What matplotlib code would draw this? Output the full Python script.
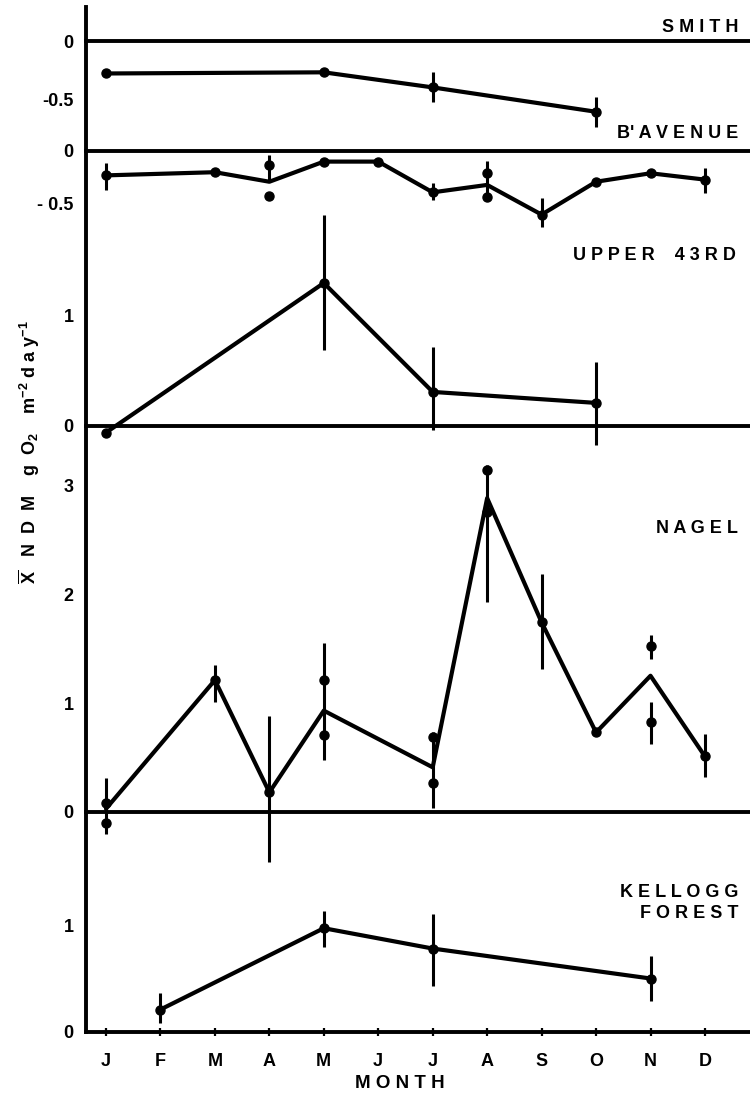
import matplotlib
matplotlib.use('Agg')
import matplotlib.pyplot as plt

plt.rcParams['font.family'] = ['Liberation Sans', 'DejaVu Sans']
plt.rcParams['font.weight'] = 'bold'
plt.rcParams['mathtext.fontset'] = 'custom'
plt.rcParams['mathtext.rm'] = 'Liberation Sans:bold'
plt.rcParams['mathtext.bf'] = 'Liberation Sans:bold'
plt.rcParams['mathtext.it'] = 'Liberation Sans:bold'

# ---------------- data ----------------
month_labels = ['J', 'F', 'M', 'A', 'M', 'J', 'J', 'A', 'S', 'O', 'N', 'D']

# SMITH
smith_line_m = [0, 4, 6, 9]
smith_line_v = [-0.28, -0.27, -0.40, -0.61]
smith_dot_m = [0, 4, 6, 9]
smith_dot_v = [-0.28, -0.27, -0.40, -0.61]
smith_err_m = [6, 9]
smith_err_lo = [-0.53, -0.74]
smith_err_hi = [-0.27, -0.48]

# B' AVENUE
bave_line_m = [0, 2, 3, 4, 5, 6, 7, 8, 9, 10, 11]
bave_line_v = [-0.23, -0.20, -0.29, -0.10, -0.10, -0.39, -0.32, -0.60, -0.29, -0.21, -0.27]
bave_dot_m = [0, 2, 3, 3, 4, 5, 6, 7, 7, 8, 9, 10, 11]
bave_dot_v = [-0.23, -0.20, -0.13, -0.42, -0.10, -0.10, -0.39, -0.21, -0.43, -0.60, -0.29, -0.21, -0.27]
bave_err_m = [0, 3, 6, 7, 8, 11]
bave_err_lo = [-0.37, -0.27, -0.46, -0.46, -0.72, -0.40]
bave_err_hi = [-0.11, -0.04, -0.30, -0.09, -0.44, -0.16]

# UPPER 43RD
upper_line_m = [0, 4, 6, 9]
upper_line_v = [-0.06, 1.30, 0.31, 0.21]
upper_dot_m = [0, 4, 6, 9]
upper_dot_v = [-0.06, 1.30, 0.31, 0.21]
upper_err_m = [4, 6, 9]
upper_err_lo = [0.69, -0.04, -0.17]
upper_err_hi = [1.92, 0.72, 0.58]

# NAGEL
nagel_line_m = [0, 2, 3, 4, 6, 7, 8, 9, 10, 11]
nagel_line_v = [0.03, 1.21, 0.18, 0.93, 0.41, 2.88, 1.74, 0.73, 1.25, 0.51]
nagel_dot_m = [0, 0, 2, 3, 4, 4, 6, 6, 7, 7, 8, 9, 10, 10, 11]
nagel_dot_v = [0.08, -0.10, 1.21, 0.18, 1.21, 0.71, 0.69, 0.27, 3.14, 2.75, 1.74, 0.73, 1.52, 0.83, 0.51]
nagel_err_m = [0, 2, 3, 4, 6, 7, 8, 10, 10, 11]
nagel_err_lo = [-0.20, 1.01, -0.46, 0.48, 0.04, 1.93, 1.31, 1.40, 0.62, 0.32]
nagel_err_hi = [0.31, 1.35, 0.88, 1.55, 0.73, 3.18, 2.18, 1.62, 1.01, 0.72]

# KELLOGG FOREST
kell_line_m = [1, 4, 6, 10]
kell_line_v = [0.21, 0.97, 0.78, 0.50]
kell_dot_m = [1, 4, 6, 10]
kell_dot_v = [0.21, 0.97, 0.78, 0.50]
kell_err_m = [1, 4, 6, 10]
kell_err_lo = [0.08, 0.79, 0.43, 0.29]
kell_err_hi = [0.36, 1.13, 1.10, 0.71]

# ---------------- layout ----------------
W, H = 750, 1096
fig = plt.figure(figsize=(W / 100, H / 100), dpi=100)

ax_left_px, ax_right_px = 86, 750
m0_px, m_step_px = 106, 54.45
xlim = ((ax_left_px - m0_px) / m_step_px, (ax_right_px - m0_px) / m_step_px)

panels = [
    dict(name='S M I T H', lm=smith_line_m, lv=smith_line_v, dm=smith_dot_m, dv=smith_dot_v,
         em=smith_err_m, elo=smith_err_lo, ehi=smith_err_hi,
         top=7, bot=146, zero=41, scale=116, ticks=[0, -0.5], tlabels=['0', '-0.5'],
         title_xy=(738, 27)),
    dict(name="B' A V E N U E", lm=bave_line_m, lv=bave_line_v, dm=bave_dot_m, dv=bave_dot_v,
         em=bave_err_m, elo=bave_err_lo, ehi=bave_err_hi,
         top=146, bot=232, zero=151, scale=106, ticks=[0, -0.5], tlabels=['0', '- 0.5'],
         title_xy=(738, 133)),
    dict(name='U P P E R    4 3 R D', lm=upper_line_m, lv=upper_line_v, dm=upper_dot_m, dv=upper_dot_v,
         em=upper_err_m, elo=upper_err_lo, ehi=upper_err_hi,
         top=232, bot=452, zero=426, scale=110, ticks=[0, 1], tlabels=['0', '1'],
         title_xy=(736, 255)),
    dict(name='N A G E L', lm=nagel_line_m, lv=nagel_line_v, dm=nagel_dot_m, dv=nagel_dot_v,
         em=nagel_err_m, elo=nagel_err_lo, ehi=nagel_err_hi,
         top=452, bot=872, zero=812, scale=109, ticks=[0, 1, 2, 3], tlabels=['0', '1', '2', '3'],
         title_xy=(738, 528)),
    dict(name='K E L L O G G\nF O R E S T', lm=kell_line_m, lv=kell_line_v, dm=kell_dot_m, dv=kell_dot_v,
         em=kell_err_m, elo=kell_err_lo, ehi=kell_err_hi,
         top=872, bot=1032, zero=1032, scale=107, ticks=[0, 1], tlabels=['0', '1'],
         title_xy=(738, 903)),
]

LW_AX = 2.8

# background axes carrying the one continuous left spine
bg = fig.add_axes([ax_left_px / W, 1 - 1032 / H, (ax_right_px - ax_left_px) / W, (1032 - 7) / H])
bg.patch.set_alpha(0)
for s in ['top', 'right', 'bottom']:
    bg.spines[s].set_visible(False)
bg.spines['left'].set_linewidth(LW_AX)
bg.set_xticks([])
bg.set_yticks([])

for i, p in enumerate(panels):
    last = i == len(panels) - 1
    ax = fig.add_axes([ax_left_px / W, 1 - p['bot'] / H,
                       (ax_right_px - ax_left_px) / W, (p['bot'] - p['top']) / H])
    ax.patch.set_alpha(0)
    ax.set_xlim(*xlim)
    ax.set_ylim((p['zero'] - p['bot']) / p['scale'], (p['zero'] - p['top']) / p['scale'])
    for s in ['top', 'right', 'left']:
        ax.spines[s].set_visible(False)
    if last:
        ax.spines['bottom'].set_linewidth(LW_AX)
        ax.spines['bottom'].set_capstyle('projecting')
        ax.set_xticks(range(12))
        ax.set_xticklabels(month_labels, fontsize=13, fontweight='bold')
        ax.tick_params(axis='x', direction='inout', length=6, width=1.6, pad=12)
    else:
        ax.spines['bottom'].set_visible(False)
        ax.set_xticks([])
        ax.axhline(0, color='black', lw=LW_AX, clip_on=False, zorder=2)
    ax.set_yticks(p['ticks'])
    ax.set_yticklabels(p['tlabels'], fontsize=13, fontweight='bold')
    ax.tick_params(axis='y', length=0, pad=9)

    ax.plot(p['lm'], p['lv'], color='black', lw=3.0, solid_joinstyle='round',
            solid_capstyle='round', clip_on=False, zorder=3)
    ax.plot(p['dm'], p['dv'], 'o', color='black', ms=6.5, clip_on=False, zorder=4)
    ax.vlines(p['em'], p['elo'], p['ehi'], color='black', lw=2.2, clip_on=False, zorder=3)

    tx, ty = p['title_xy']
    fig.text(tx / W, 1 - ty / H, p['name'], ha='right', va='center', fontsize=13,
             fontweight='bold', linespacing=1.25, multialignment='right')

fig.text(29 / W, 1 - 452 / H,
         r'$\overline{\rm X}$   N  D  M    g  O$_{2}$    m$^{-2}$ d a y$^{-1}$',
         rotation=90, ha='center', va='center', fontsize=13, fontweight='bold')
fig.text(400 / W, 1 - 1083 / H, 'M O N T H', ha='center', va='center',
         fontsize=13.5, fontweight='bold')

fig.savefig('out.png', dpi=100, facecolor='white')
